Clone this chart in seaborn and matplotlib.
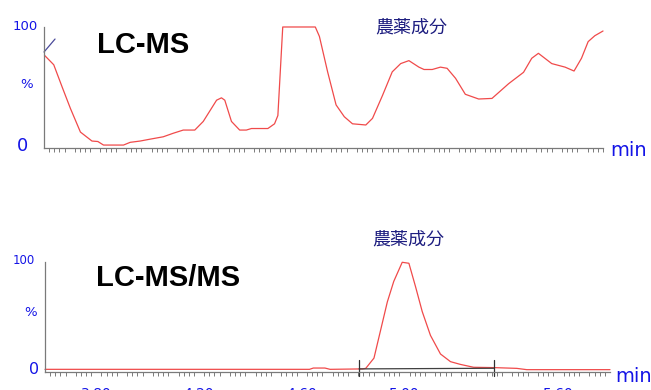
import numpy as np
import pandas as pd
import matplotlib
matplotlib.use('Agg')
import matplotlib.pyplot as plt
from matplotlib.ticker import MultipleLocator, FixedLocator
import seaborn as sns

# LC-MS (arriba): tiempo (min) e intensidad relativa (%)
top_t = [3.602, 3.638, 3.671, 3.703, 3.742, 3.787, 3.81, 3.832, 3.91, 3.936,
         3.975, 4.014, 4.065, 4.104, 4.143, 4.188, 4.221, 4.273, 4.292, 4.305,
         4.331, 4.363, 4.389, 4.409, 4.473, 4.499, 4.512, 4.531, 4.658, 4.674,
         4.706, 4.739, 4.771, 4.803, 4.855, 4.881, 4.92, 4.958, 4.991, 5.023,
         5.062, 5.082, 5.114, 5.146, 5.172, 5.205, 5.243, 5.295, 5.347, 5.412,
         5.47, 5.502, 5.528, 5.58, 5.632, 5.667, 5.696, 5.722, 5.748, 5.78]
top_pct = [76, 68, 49, 31, 11, 3.4, 3, 0, 0, 2.3,
           3.4, 5, 7, 10, 12.7, 12.7, 20, 38, 40, 38,
           20, 12.7, 12.7, 14, 14, 18, 25, 100, 100, 92,
           62, 34, 24, 18, 17, 22.6, 42, 62, 69, 71.5,
           66, 64, 64, 66, 65, 56.5, 43, 39, 39.5, 52,
           61.6, 73.5, 77.7, 69, 66, 62.7, 73.5, 87.6, 92.6, 96.6]

# LC-MS/MS (abajo)
bot_t = [3.60, 4.63, 4.645, 4.69, 4.71, 4.836, 4.849, 4.881, 4.907, 4.933,
         4.958, 4.991, 5.017, 5.043, 5.069, 5.101, 5.14, 5.179, 5.217, 5.269,
         5.347, 5.437, 5.476, 5.80]
bot_pct = [0.6, 0.6, 1.8, 1.8, 0.6, 1, 1.5, 11, 37, 63,
           82, 99.7, 98.8, 77, 54, 32, 14.8, 7.7, 5.2, 2.5,
           2.2, 1.5, 0.3, 0.3]

# marcas de integración del pico
integ_t = [4.823, 5.349]
integ_base = [1.0, 1.6]
xtick_vals = [3.80, 4.20, 4.60, 5.00, 5.60]
xtick_labels = ['3.80', '4.20', '4.60', '5.00', '5.60']

sns.set_style("white")
plt.rcParams['font.family'] = ['DejaVu Sans', 'Noto Sans CJK JP']

df_top = pd.DataFrame({'t': top_t, 'pct': top_pct})
df_bot = pd.DataFrame({'t': bot_t, 'pct': bot_pct})

fig = plt.figure(figsize=(6.51, 3.90), dpi=100)
ax1 = fig.add_axes([0.0676, 0.6205, 0.8587, 0.3103])
ax2 = fig.add_axes([0.0691, 0.0462, 0.8679, 0.2821])

rojo = '#f04a4a'
azul = '#1414e6'
navy = '#1e1e80'
gris = '#7a7a7a'

sns.lineplot(data=df_top, x='t', y='pct', color=rojo, lw=0.9, sort=False, ax=ax1)
sns.lineplot(data=df_bot, x='t', y='pct', color=rojo, lw=0.9, sort=False, ax=ax2)
for l in ax1.lines + ax2.lines:
    l.set_clip_on(False)

# marca diagonal arriba a la izquierda
ax1.plot([3.600, 3.643], [78.8, 89.8], color='#4a4a9a', lw=0.9, clip_on=False)

# integración del pico
ax2.plot(integ_t, integ_base, color='#404040', lw=0.9, clip_on=False)
for t in integ_t:
    ax2.plot([t, t], [9.3, -5.5], color='#303030', lw=0.9, clip_on=False)

for ax, ylow, ystep, xmax in [(ax1, -2.5, 12.5, 5.78), (ax2, -1.85, 100 / 6, 5.80)]:
    ax.set_xlim(3.60, xmax)
    ax.set_ylim(ylow, 100)
    ax.set_xlabel('')
    ax.set_ylabel('')
    ax.set_facecolor('none')
    for s in ['top', 'right']:
        ax.spines[s].set_visible(False)
    for s in ['left', 'bottom']:
        ax.spines[s].set_color(gris)
        ax.spines[s].set_linewidth(0.9)
    ax.spines['left'].set_bounds(ylow, 100)
    ax.yaxis.set_major_locator(FixedLocator(np.arange(0, 100.01, ystep)))
    ax.xaxis.set_major_locator(MultipleLocator(0.1))
    ax.xaxis.set_minor_locator(MultipleLocator(0.02))
    ax.tick_params(axis='y', which='major', direction='out', length=3, width=0.8,
                   color=gris, labelleft=False)
    ax.tick_params(axis='x', which='major', direction='out', length=6, width=0.8,
                   color=gris)
    ax.tick_params(axis='x', which='minor', direction='out', length=3, width=0.7,
                   color=gris, bottom=True)

ax1.tick_params(axis='x', which='major', labelbottom=False)

ax2.xaxis.set_major_locator(MultipleLocator(0.1))
ax2.set_xticks(np.arange(3.6, 5.801, 0.1))
ax2.set_xticklabels(['' for _ in np.arange(3.6, 5.801, 0.1)])
for v, lab in zip(xtick_vals, xtick_labels):
    ax2.annotate(lab, xy=(v, 0), xycoords=('data', 'axes fraction'),
                 xytext=(0, -11), textcoords='offset points',
                 ha='center', va='top', fontsize=10, color=azul,
                 annotation_clip=False)

# textos del eje y (px de la figura -> fracción)
def ftxt(x, y, s, **kw):
    fig.text(x / 651, 1 - y / 390, s, ha='center', va='center', **kw)

ftxt(25, 26, '100', fontsize=9.5, color=azul)
ftxt(27, 84, '%', fontsize=9.5, color=azul)
ftxt(23, 146, '0', fontsize=13, color=azul)
ftxt(24, 260, '100', fontsize=8.5, color=azul)
ftxt(31, 313, '%', fontsize=9.5, color=azul)
ftxt(34, 370, '0', fontsize=11.5, color=azul)

ftxt(629, 150, 'min', fontsize=14, color=azul)
ftxt(634, 376, 'min', fontsize=14, color=azul)

ftxt(143, 45, 'LC-MS', fontsize=21, fontweight='bold', color='black',
     family=['Liberation Sans', 'DejaVu Sans'])
ftxt(168, 278, 'LC-MS/MS', fontsize=21, fontweight='bold', color='black',
     family=['Liberation Sans', 'DejaVu Sans'])

ftxt(411, 27, '農薬成分', fontsize=13, color=navy,
     family=['Noto Sans CJK JP', 'DejaVu Sans'])
ftxt(408, 240, '農薬成分', fontsize=13, color=navy,
     family=['Noto Sans CJK JP', 'DejaVu Sans'])

plt.savefig('out.png', dpi=100)
